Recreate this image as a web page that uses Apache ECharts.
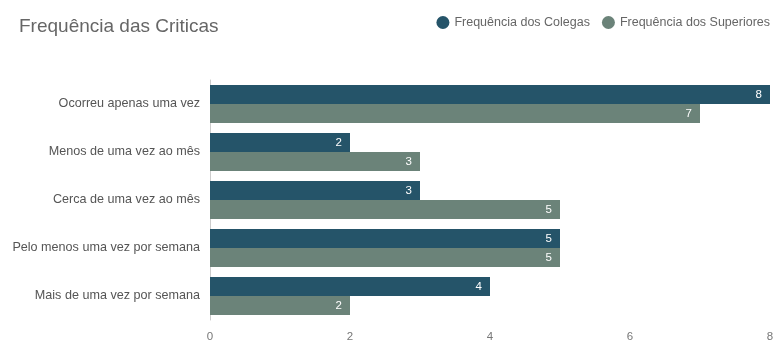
<!DOCTYPE html>
<html>
<head>
<meta charset="utf-8">
<script src="https://cdn.jsdelivr.net/npm/echarts@6/dist/echarts.min.js"></script>
<style>
  html, body { margin: 0; padding: 0; background: #fff; }
  #chart { width: 777px; height: 343px; }
</style>
</head>
<body>
<div id="chart"></div>
<script>
const categories = [
  "Ocorreu apenas uma vez",
  "Menos de uma vez ao mês",
  "Cerca de uma vez ao mês",
  "Pelo menos uma vez por semana",
  "Mais de uma vez por semana"
];
const colegas = [8, 2, 3, 5, 4];
const superiores = [7, 3, 5, 5, 2];
const xTicks = [0, 2, 4, 6, 8];

const chart = echarts.init(document.getElementById("chart"));

const barLabel = {
  show: true,
  position: "insideRight",
  color: "#fff",
  fontSize: 11.5,
  distance: 8
};

chart.setOption({
  animation: false,
  textStyle: { fontFamily: "Liberation Sans" },
  title: {
    text: "Frequência das Criticas",
    left: 14,
    top: 12,
    textStyle: { fontSize: 19, fontWeight: "normal", color: "#666", fontFamily: "Liberation Sans" }
  },
  legend: {
    right: 2,
    top: 11,
    icon: "circle",
    itemWidth: 13,
    itemHeight: 13,
    itemGap: 12,
    itemTextGap: 4,
    textStyle: { fontSize: 12.5, color: "#666" }
  },
  grid: { left: 210, right: 7, top: 80, bottom: 22 },
  xAxis: {
    type: "value",
    min: xTicks[0],
    max: xTicks[xTicks.length - 1],
    interval: 2,
    axisLine: { show: false },
    axisTick: { show: false },
    splitLine: { show: false },
    axisLabel: { color: "#777", fontSize: 11.5, margin: 11 }
  },
  yAxis: {
    type: "category",
    data: categories,
    inverse: true,
    axisLine: { show: true, lineStyle: { color: "#ccc" } },
    axisTick: { show: false },
    axisLabel: { color: "#555", fontSize: 12.6, margin: 10 }
  },
  series: [
    {
      name: "Frequência dos Colegas",
      type: "bar",
      data: colegas,
      barGap: "0%",
      barCategoryGap: "21%",
      itemStyle: { color: "#255469" },
      label: barLabel
    },
    {
      name: "Frequência dos Superiores",
      type: "bar",
      data: superiores,
      itemStyle: { color: "#6b8379" },
      label: barLabel
    }
  ]
});
</script>
</body>
</html>
